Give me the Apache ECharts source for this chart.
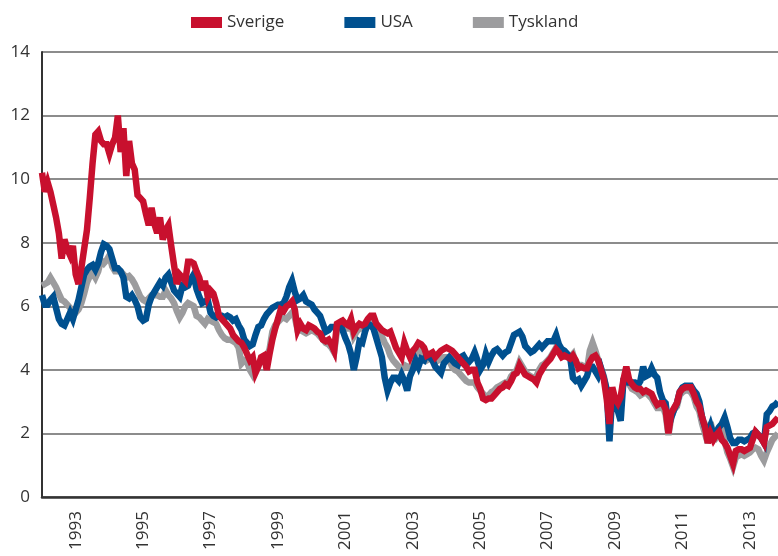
<!DOCTYPE html>
<html>
<head>
<meta charset="utf-8">
<script src="https://cdn.jsdelivr.net/npm/echarts@6/dist/echarts.min.js"></script>
<style>
  html, body { margin: 0; padding: 0; background: #fff; }
  #chart { width: 778px; height: 556px; }
</style>
</head>
<body>
<div id="chart"></div>
<script>
// monthly categories, Jan 1992 .. Nov 2013
var months = [];
for (var y = 1992; y <= 2013; y++) {
    for (var mo = 1; mo <= 12; mo++) {
        if (y == 2013 && mo > 11) break;
        months.push(y + '-' + (mo < 10 ? '0' + mo : mo));
    }
}

var seriesNames = ['Sverige', 'USA', 'Tyskland'];

// Sverige, monthly
var sverige = [
    10.2, 9.6, 9.9, 9.6, 9.2, 8.8, 8.3, 7.5, 8.1, 7.8, 7.6, 7.9,
    7.0, 6.7, 7.2, 7.8, 8.4, 9.4, 10.5, 11.4, 11.5, 11.2, 11.1, 11.1,
    10.8, 11.1, 11.3, 12.0, 10.85, 11.6, 10.1, 11.2, 10.5, 10.3, 9.5, 9.4,
    9.3, 8.9, 8.55, 9.1, 8.6, 8.3, 8.8, 8.1, 8.4, 8.55, 7.9, 7.3,
    6.7, 7.0, 6.9, 6.8, 7.4, 7.4, 7.35, 7.1, 6.9, 6.5, 6.8, 6.3,
    6.5, 6.4, 6.1, 5.7, 5.6, 5.5, 5.4, 5.3, 5.1, 5.0, 4.9, 4.85,
    4.7, 4.5, 4.3, 4.4, 3.9, 4.1, 4.4, 4.45, 4.0, 4.5, 4.95, 5.3,
    5.6, 5.9, 5.85, 6.0, 6.05, 6.15, 5.9, 5.25, 5.45, 5.3, 5.25, 5.4,
    5.35, 5.3, 5.2, 5.15, 4.95, 4.9, 4.95, 4.8, 4.6, 5.45, 5.5, 5.55,
    5.45, 5.4, 5.6, 5.2, 5.35, 5.45, 5.4, 5.45, 5.6, 5.7, 5.7, 5.45,
    5.35, 5.25, 5.2, 5.15, 5.2, 4.95, 4.7, 4.55, 4.4, 4.85, 4.6, 4.4,
    4.6, 4.7, 4.85, 4.8, 4.7, 4.45, 4.5, 4.55, 4.4, 4.5, 4.6, 4.65,
    4.7, 4.65, 4.6, 4.5, 4.4, 4.3, 4.2, 4.1, 3.95, 4.0, 4.0, 3.6,
    3.4, 3.1, 3.05, 3.1, 3.1, 3.2, 3.3, 3.4, 3.45, 3.55, 3.5, 3.65,
    3.85, 3.9, 4.15, 4.0, 3.85, 3.8, 3.75, 3.7, 3.6, 3.85, 4.0, 4.15,
    4.25, 4.35, 4.5, 4.65, 4.55, 4.4, 4.45, 4.4, 4.35, 4.45, 4.3, 4.05,
    4.1, 4.05, 4.05, 4.25, 4.4, 4.45, 4.3, 4.0, 3.7, 3.1, 2.3, 3.45,
    3.1, 2.95, 3.15, 3.7, 4.1, 3.7, 3.55, 3.45, 3.4, 3.4, 3.3, 3.35,
    3.3, 3.25, 3.05, 2.9, 2.95, 2.95, 2.75, 2.0, 2.65, 2.8, 2.95, 3.3,
    3.4, 3.45, 3.45, 3.45, 3.25, 3.0, 2.85, 2.5, 2.2, 1.7, 2.0, 1.8,
    1.95, 2.05, 1.8, 1.7, 1.55, 1.3, 1.05, 1.45, 1.5, 1.5, 1.45, 1.5,
    1.55, 1.8, 2.05, 1.95, 1.85, 1.7, 2.2, 2.25, 2.3, 2.4, 2.5
];

// USA, monthly
var usa = [
    6.35, 6.05, 6.05, 6.2, 6.3, 5.95, 5.6, 5.45, 5.4, 5.6, 5.8, 5.6,
    5.9, 6.2, 6.6, 7.0, 7.15, 7.25, 7.3, 7.15, 7.35, 7.7, 7.95, 7.9,
    7.8, 7.5, 7.2, 7.2, 7.1, 6.9, 6.3, 6.25, 6.35, 6.2, 6.0, 5.65,
    5.55, 5.6, 6.05, 6.3, 6.45, 6.6, 6.75, 6.65, 6.9, 7.0, 6.75, 6.5,
    6.4, 6.3, 6.65, 6.6, 6.65, 6.85, 7.0, 6.55, 6.3, 6.1, 6.15, 6.2,
    5.8, 5.7, 5.65, 5.7, 5.7, 5.65, 5.7, 5.65, 5.55, 5.6, 5.4, 5.25,
    4.95, 4.85, 4.75, 4.8, 5.1, 5.35, 5.4, 5.6, 5.75, 5.85, 5.95, 6.0,
    6.05, 6.05, 6.1, 6.3, 6.6, 6.8, 6.45, 6.2, 6.25, 6.35, 6.15, 6.1,
    6.05, 5.9, 5.8, 5.7, 5.45, 5.2, 5.25, 5.35, 5.35, 5.35, 5.45, 5.25,
    5.0, 4.8, 4.5, 4.0, 4.4, 4.9, 4.85, 5.2, 5.45, 5.4, 5.3, 5.0,
    4.7, 4.4, 3.75, 3.35, 3.6, 3.75, 3.75, 3.65, 3.85, 3.65, 3.35, 3.8,
    4.0, 4.3, 4.1, 4.35, 4.3, 4.5, 4.4, 4.3, 4.1, 4.0, 3.9, 4.2,
    4.3, 4.4, 4.3, 4.2, 4.15, 4.4, 4.45, 4.3, 4.25, 4.35, 4.55, 4.3,
    4.0, 4.15, 4.5, 4.25, 4.45, 4.6, 4.65, 4.55, 4.45, 4.55, 4.6, 4.85,
    5.1, 5.15, 5.2, 5.05, 4.75, 4.65, 4.55, 4.6, 4.7, 4.8, 4.7, 4.8,
    4.9, 4.9, 4.9, 5.1, 4.8, 4.65, 4.6, 4.5, 4.4, 3.75, 3.65, 3.7,
    3.5, 3.65, 3.8, 4.1, 4.1, 3.95, 3.8, 4.05, 3.75, 3.4, 1.75, 3.2,
    2.9, 2.7, 2.4, 3.7, 3.85, 3.6, 3.6, 3.6, 3.5, 3.65, 4.1, 3.8,
    3.85, 4.05, 3.85, 3.75, 3.3, 3.05, 2.95, 2.2, 2.5, 2.75, 2.95, 3.3,
    3.45, 3.5, 3.5, 3.5, 3.35, 3.25, 3.0, 2.5, 2.2, 2.0, 2.25, 1.95,
    2.05, 2.2, 2.3, 2.5, 2.2, 1.85, 1.7, 1.7, 1.8, 1.8, 1.75, 1.8,
    1.85, 2.0, 2.05, 1.95, 1.85, 1.7, 2.6, 2.7, 2.85, 2.9, 3.0
];

// Tyskland, monthly
var tyskland = [
    6.65, 6.7, 6.75, 6.9, 6.75, 6.6, 6.4, 6.2, 6.15, 6.05, 5.95, 5.8,
    5.8, 5.9, 6.1, 6.4, 6.75, 6.95, 7.05, 6.9, 7.1, 7.45, 7.35, 7.45,
    7.6, 7.25, 7.1, 7.1, 7.1, 7.0, 6.9, 6.95, 6.85, 6.7, 6.5, 6.3,
    6.2, 6.15, 6.25, 6.35, 6.35, 6.35, 6.3, 6.3, 6.5, 6.35, 6.25, 6.1,
    5.85, 5.65, 5.8, 6.0, 6.1, 6.05, 6.0, 5.7, 5.65, 5.55, 5.45, 5.6,
    5.55, 5.5, 5.45, 5.25, 5.1, 5.0, 4.95, 4.95, 4.9, 4.85, 4.7, 4.2,
    4.3, 4.25, 4.0, 3.85, 4.05, 4.15, 4.25, 4.3, 4.4, 4.65, 5.2, 5.4,
    5.5, 5.6, 5.65, 5.6, 5.7, 5.8, 5.65, 5.25, 5.25, 5.2, 5.15, 5.2,
    5.25, 5.2, 5.15, 5.05, 4.95, 4.85, 4.8, 4.7, 4.55, 5.25, 5.35, 5.4,
    5.3, 5.3, 5.45, 5.05, 5.2, 5.3, 5.3, 5.35, 5.5, 5.6, 5.55, 5.3,
    5.15, 5.05, 4.85, 4.7, 4.45, 4.3, 4.2, 4.1, 4.0, 4.15, 4.1, 4.1,
    4.2, 4.5, 4.55, 4.6, 4.45, 4.3, 4.35, 4.3, 4.25, 4.3, 4.35, 4.4,
    4.4, 4.3, 4.1, 4.0, 3.95, 3.85, 3.75, 3.65, 3.6, 3.6, 3.6, 3.45,
    3.35, 3.25, 3.15, 3.2, 3.3, 3.35, 3.45, 3.5, 3.55, 3.6, 3.6, 3.8,
    3.9, 4.0, 4.25, 4.1, 3.95, 3.85, 3.8, 3.75, 3.8, 4.0, 4.15, 4.2,
    4.3, 4.4, 4.55, 4.7, 4.55, 4.45, 4.5, 4.45, 4.4, 4.5, 4.2, 4.15,
    4.15, 4.1, 4.0, 4.6, 4.85, 4.6, 4.3, 4.05, 3.8, 3.35, 2.75, 3.0,
    2.9, 2.85, 3.0, 3.6, 3.95, 3.55, 3.4, 3.35, 3.3, 3.2, 3.25, 3.3,
    3.2, 3.1, 2.95, 2.8, 2.8, 2.85, 2.6, 1.95, 2.5, 2.75, 2.85, 3.2,
    3.3, 3.35, 3.35, 3.3, 3.15, 2.85, 2.7, 2.3, 2.0, 1.7, 2.35, 1.95,
    1.85, 1.95, 2.3, 1.75, 1.4, 1.2, 0.95, 1.25, 1.3, 1.35, 1.3, 1.35,
    1.4, 1.5, 1.55, 1.5, 1.3, 1.15, 1.4, 1.6, 1.8, 1.9, 2.0
];

var colors = { 'Sverige': '#c8102e', 'USA': '#00508f', 'Tyskland': '#9c9c9e' };
var yTicks = [0, 2, 4, 6, 8, 10, 12, 14];
var fontFamily = "'Open Sans', 'DejaVu Sans', sans-serif";

var chart = echarts.init(document.getElementById('chart'));

function lineSeries(name, data) {
    return {
        name: name,
        type: 'line',
        data: data,
        symbol: 'none',
        lineStyle: { color: colors[name], width: 6.5, join: 'miter', miterLimit: 4 },
        itemStyle: { color: colors[name] },
        animation: false
    };
}

var option = {
    backgroundColor: '#fff',
    animation: false,
    legend: {
        data: seriesNames,
        top: 9,
        left: 186,
        icon: 'rect',
        itemWidth: 31,
        itemHeight: 11,
        itemGap: 60,
        textStyle: { fontSize: 17, color: '#333', fontFamily: fontFamily }
    },
    grid: { left: 42, right: 0, top: 52, bottom: 59, containLabel: false },
    xAxis: {
        type: 'category',
        data: months,
        boundaryGap: false,
        axisLine: { lineStyle: { color: '#333', width: 2.5 } },
        axisTick: { show: false },
        axisLabel: {
            rotate: 90,
            margin: 14,
            fontSize: 17,
            color: '#333',
            fontFamily: fontFamily,
            interval: function (idx) { return idx >= 12 && (idx - 12) % 24 === 0; },
            formatter: function (v) { return v.slice(0, 4); }
        },
        splitLine: { show: false }
    },
    yAxis: {
        type: 'value',
        min: yTicks[0],
        max: yTicks[yTicks.length - 1],
        interval: 2,
        axisLine: { show: true, lineStyle: { color: '#333', width: 2 } },
        axisTick: { show: false },
        axisLabel: {
            margin: 12,
            fontSize: 17,
            color: '#333',
            fontFamily: fontFamily
        },
        splitLine: { lineStyle: { color: '#666', width: 1.5 } }
    },
    series: [
        lineSeries('Tyskland', tyskland),
        lineSeries('USA', usa),
        lineSeries('Sverige', sverige)
    ]
};
chart.setOption(option);
</script>
</body>
</html>
